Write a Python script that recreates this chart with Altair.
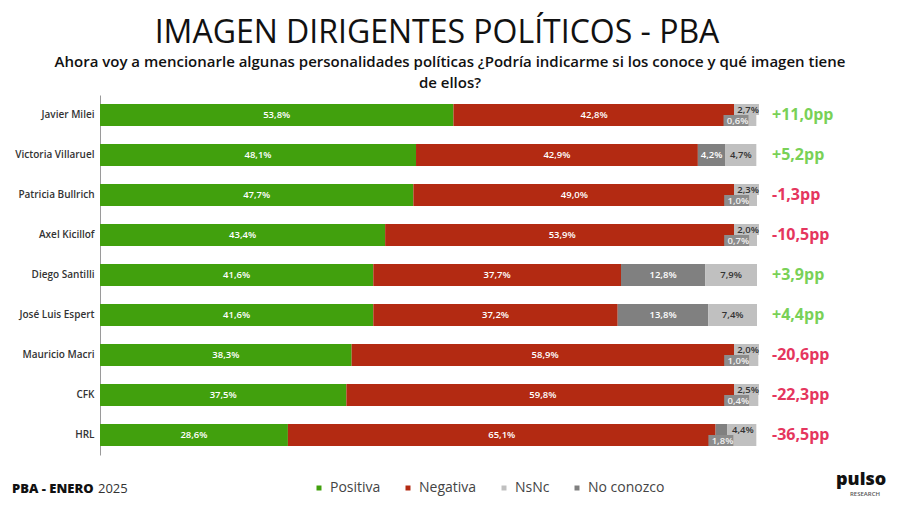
import altair as alt
import pandas as pd

# ---------------- data ----------------
names = ["Javier Milei", "Victoria Villaruel", "Patricia Bullrich", "Axel Kicillof",
         "Diego Santilli", "José Luis Espert", "Mauricio Macri", "CFK", "HRL"]
positiva = [53.8, 48.1, 47.7, 43.4, 41.6, 41.6, 38.3, 37.5, 28.6]
negativa = [42.8, 42.9, 49.0, 53.9, 37.7, 37.2, 58.9, 59.8, 65.1]
no_conozco = [0.6, 4.2, 1.0, 0.7, 12.8, 13.8, 1.0, 0.4, 1.8]
nsnc = [2.7, 4.7, 2.3, 2.0, 7.9, 7.4, 2.0, 2.5, 4.4]
legend_order = ["Positiva", "Negativa", "NsNc", "No conozco"]

TITLE = "IMAGEN DIRIGENTES POLÍTICOS - PBA"
SUB1 = "Ahora voy a mencionarle algunas personalidades políticas ¿Podría indicarme si los conoce y qué imagen tiene"
SUB2 = "de ellos?"

GREEN = "#41a00d"
RED = "#b32a12"
LGRAY = "#c0c0c0"
DGRAY = "#808080"
DIFF_POS = "#79d157"
DIFF_NEG = "#e5365e"
FONT = "Open Sans"


def fmt(v):
    return f"{v:.1f}".replace(".", ",")


bars, center_lab, upper_lab, lower_lab, diffs = [], [], [], [], []
for i, n in enumerate(names):
    segs = [("Positiva", positiva[i]), ("Negativa", negativa[i]),
            ("No conozco", no_conozco[i]), ("NsNc", nsnc[i])]
    stagger = no_conozco[i] < 3
    s = 0.0
    for cat, v in segs:
        e = s + v
        bars.append(dict(name=n, cat=cat, start=s, end=e))
        mid = (s + e) / 2
        lab = fmt(v) + "%"
        if stagger and cat == "NsNc":
            x = min(mid + 1.8, 100.3)
            upper_lab.append(dict(name=n, x=x, bx=x - 3.8, label=lab))
        elif stagger and cat == "No conozco":
            x = min(mid + 1.8, 98.8)
            lower_lab.append(dict(name=n, x=x, bx=x - 3.8, label=lab))
        else:
            center_lab.append(dict(name=n, x=mid, label=lab,
                                   tc="#333333" if cat == "NsNc" else "#ffffff"))
        s = e
    d = round(positiva[i] - negativa[i], 1)
    sign = "+" if d >= 0 else "-"
    diffs.append(dict(name=n, label=f"{sign}{fmt(abs(d))}pp",
                      col=DIFF_POS if d >= 0 else DIFF_NEG))

bars = pd.DataFrame(bars)
center_lab = pd.DataFrame(center_lab)
upper_lab = pd.DataFrame(upper_lab)
lower_lab = pd.DataFrame(lower_lab)
diffs = pd.DataFrame(diffs)

Y = alt.Y("name:N", sort=names,
          scale=alt.Scale(paddingInner=0.45, paddingOuter=0.225),
          axis=alt.Axis(title=None, ticks=False, domainColor="#9a9a9a", domainWidth=1,
                        labelFontSize=10, labelFont=FONT, labelColor="#333333",
                        labelFontWeight=600, labelPadding=6))
XS = alt.Scale(domain=[0, 100])

bar_layer = alt.Chart(bars).mark_bar(size=22).encode(
    y=Y,
    x=alt.X("start:Q", scale=XS, axis=None),
    x2="end:Q",
    color=alt.Color("cat:N",
                    scale=alt.Scale(domain=legend_order, range=[GREEN, RED, LGRAY, DGRAY]),
                    legend=alt.Legend(orient="none", legendX=212, legendY=386,
                                      direction="horizontal", title=None,
                                      symbolType="square", symbolSize=25,
                                      symbolStrokeWidth=0, labelFontSize=14,
                                      labelFont=FONT, labelColor="#444444",
                                      columnPadding=20)),
)

center_text = alt.Chart(center_lab).mark_text(fontSize=9.5, font=FONT, fontWeight=600).encode(
    y=Y, x=alt.X("x:Q", scale=XS), text="label:N",
    color=alt.Color("tc:N", scale=None))

upper_box = alt.Chart(upper_lab).mark_bar(height=11, yOffset=-5.5, color=LGRAY).encode(
    y=Y, x=alt.X("bx:Q", scale=XS), x2="x:Q")
lower_box = alt.Chart(lower_lab).mark_bar(height=11, yOffset=5.5, color="#8c8c8c").encode(
    y=Y, x=alt.X("bx:Q", scale=XS), x2="x:Q")
upper_text = alt.Chart(upper_lab).mark_text(fontSize=9.5, font=FONT, fontWeight=600,
                                            align="right", dy=-5, color="#333333").encode(
    y=Y, x=alt.X("x:Q", scale=XS), text="label:N")
lower_text = alt.Chart(lower_lab).mark_text(fontSize=9.5, font=FONT, fontWeight=600,
                                            align="right", dy=6, color="#f2f2f2").encode(
    y=Y, x=alt.X("x:Q", scale=XS), text="label:N")

diff_text = alt.Chart(diffs).mark_text(fontSize=16, font=FONT, fontWeight=700,
                                       align="left").encode(
    y=Y, x=alt.value(672), text="label:N", color=alt.Color("col:N", scale=None))

ann = pd.DataFrame({"k": [0]})
title_t = alt.Chart(ann).mark_text(fontSize=32, font=FONT, fontWeight=400, color="#111111").encode(
    x=alt.value(337), y=alt.value(-62), text=alt.value(TITLE))
sub1_t = alt.Chart(ann).mark_text(fontSize=15, font=FONT, fontWeight=600, color="#111111").encode(
    x=alt.value(350), y=alt.value(-33), text=alt.value(SUB1))
sub2_t = alt.Chart(ann).mark_text(fontSize=15, font=FONT, fontWeight=600, color="#111111").encode(
    x=alt.value(350), y=alt.value(-12), text=alt.value(SUB2))
foot1 = alt.Chart(ann).mark_text(fontSize=13, font=FONT, fontWeight=800, color="#111111",
                                 align="left").encode(
    x=alt.value(-88), y=alt.value(394), text=alt.value("PBA -  ENERO"))
foot2 = alt.Chart(ann).mark_text(fontSize=13, font=FONT, fontWeight=400, color="#333333",
                                 align="left").encode(
    x=alt.value(-2), y=alt.value(394), text=alt.value("2025"))
logo1 = alt.Chart(ann).mark_text(fontSize=18, font=FONT, fontWeight=800, color="#111111",
                                 align="left").encode(
    x=alt.value(736), y=alt.value(385), text=alt.value("pulso"))
logo2 = alt.Chart(ann).mark_text(fontSize=6, font=FONT, fontWeight=600, color="#555555",
                                 align="left").encode(
    x=alt.value(750), y=alt.value(399), text=alt.value("RESEARCH"))

chart = alt.layer(
    bar_layer, upper_box, lower_box, center_text, upper_text, lower_text, diff_text,
    title_t, sub1_t, sub2_t, foot1, foot2, logo1, logo2,
).properties(
    width=657, height=360,
    autosize=alt.AutoSizeParams(type="none"),
    padding={"left": 92, "top": 87, "right": 135, "bottom": 43},
    background="white",
).configure_view(stroke=None)

chart.save("out.html", embed_options={"renderer": "svg", "actions": False})
